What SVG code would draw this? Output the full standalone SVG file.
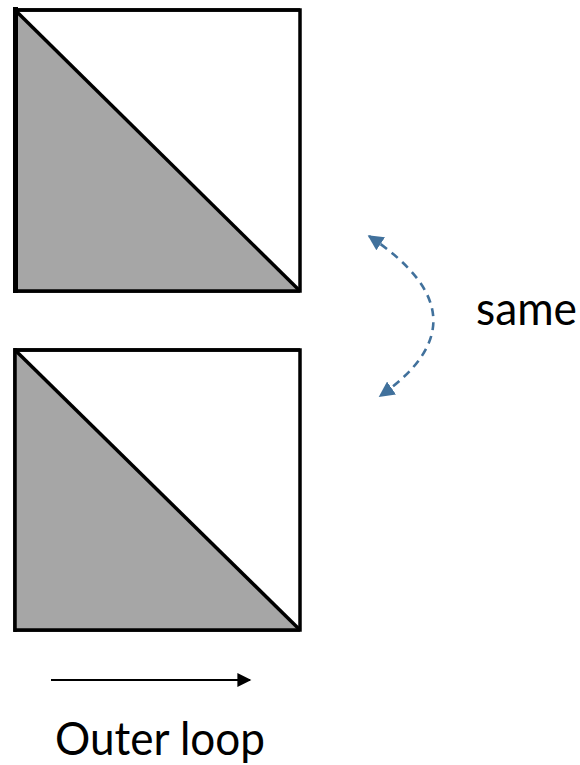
<svg xmlns="http://www.w3.org/2000/svg" width="580" height="765" viewBox="0 0 580 765">
<style>
.sq{fill:#ffffff;stroke:#000;stroke-width:3.5}
.tri{fill:#a6a6a6;stroke:none}
.diag{stroke:#000;stroke-width:3.5;fill:none}
.edge{stroke:#000;stroke-width:5}
.lbl{font-family:"Lato","Liberation Sans",sans-serif;font-size:46px;fill:#000}
.dash{fill:none;stroke:#41719c;stroke-width:2.6;stroke-dasharray:8 6}
</style>
<defs>
<marker id="bh" viewBox="0 0 10 10" refX="9" refY="5" markerWidth="6" markerHeight="6" orient="auto-start-reverse" markerUnits="strokeWidth">
<path d="M0,0 L10,5 L0,10 z" fill="#41719c"/>
</marker>
<marker id="kh" viewBox="0 0 10 10" refX="9" refY="5" markerWidth="7.5" markerHeight="7" orient="auto" markerUnits="strokeWidth">
<path d="M0,0 L10,5 L0,10 z" fill="#000"/>
</marker>
</defs>
<g id="square-top">
<rect class="sq" x="15" y="10" width="285" height="281"/>
<polygon class="tri" points="15,10 15,291 300,291"/>
<line class="diag" x1="15" y1="10" x2="300" y2="291"/>
<line class="sq" x1="15" y1="10" x2="300" y2="10"/>
<line class="sq" x1="15" y1="291" x2="300" y2="291"/>
<line class="edge" x1="15.5" y1="7" x2="15.5" y2="293"/>
</g>
<g id="square-bottom">
<rect class="sq" x="15" y="350" width="285" height="280"/>
<polygon class="tri" points="15,350 15,630 300,630"/>
<line class="diag" x1="15" y1="350" x2="300" y2="630"/>
<line class="sq" x1="15" y1="350" x2="300" y2="350"/>
<line class="sq" x1="15" y1="630" x2="300" y2="630"/>
<line class="sq" x1="15" y1="348" x2="15" y2="632"/>
</g>
<g id="connectors">
<path class="dash" d="M369,236 Q492,318 380,396" marker-start="url(#bh)" marker-end="url(#bh)"/>
<line x1="51" y1="680" x2="250" y2="680" stroke="#000" stroke-width="2" marker-end="url(#kh)"/>
</g>
<g id="label-same">
<text class="lbl" x="476" y="325" textLength="101" lengthAdjust="spacingAndGlyphs">same</text>
</g>
<g id="label-outer">
<text class="lbl" x="55" y="755" textLength="210" lengthAdjust="spacingAndGlyphs">Outer loop</text>
</g>
</svg>
